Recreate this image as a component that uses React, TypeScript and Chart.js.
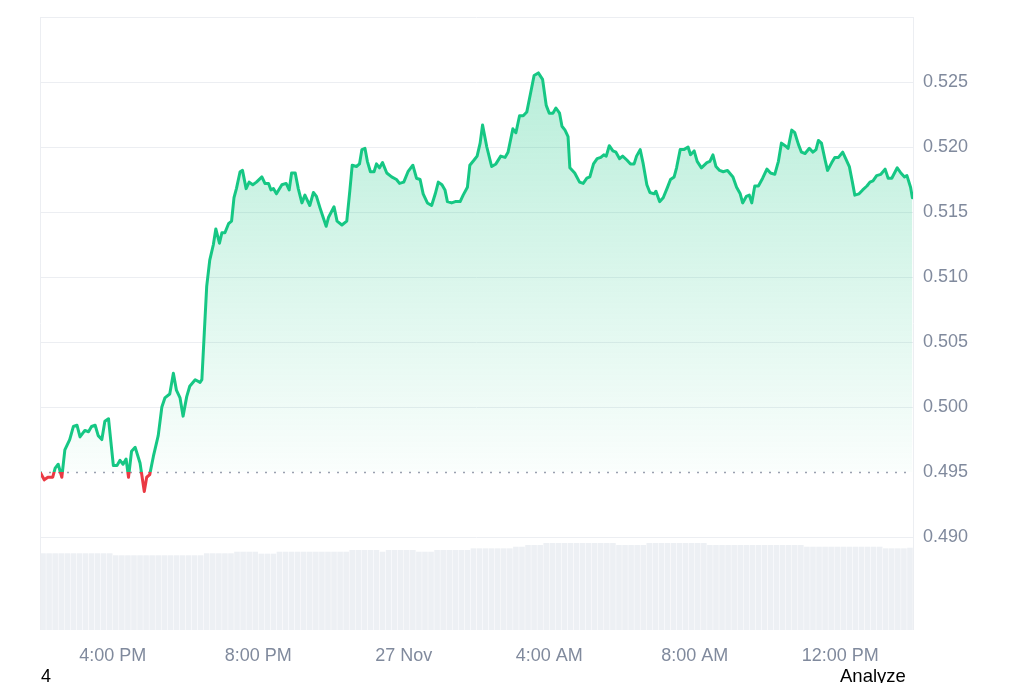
import React, { useEffect, useRef } from 'react';
import { Chart, registerables } from 'chart.js';

Chart.register(...registerables);

// minutes since 2:00 PM (26 Nov)
const times = [
  0, 7, 13, 21, 25, 30, 36, 41, 49, 55,
  61, 66, 74, 80, 85, 91, 96, 102, 107, 113,
  121, 127, 132, 137, 142, 146, 151, 157, 165, 172,
  176, 181, 187, 195, 201, 206, 214, 220, 225, 231,
  236, 242, 247, 256, 264, 267, 271, 275, 280, 286,
  290, 296, 300, 305, 311, 316, 320, 324, 330, 334,
  340, 345, 351, 357, 366, 371, 377, 381, 385, 390,
  399, 406, 411, 415, 421, 426, 432, 437, 445, 451,
  456, 462, 467, 472, 476, 485, 490, 498, 506, 511,
  515, 522, 527, 531, 536, 540, 545, 551, 555, 560,
  565, 572, 580, 588, 593, 600, 607, 615, 621, 627,
  632, 639, 646, 652, 657, 663, 668, 672, 679, 685,
  693, 698, 705, 709, 716, 721, 726, 730, 737, 745,
  752, 760, 767, 772, 780, 785, 791, 797, 803, 809,
  815, 822, 829, 835, 840, 846, 851, 857, 861, 866,
  871, 874, 882, 890, 896, 902, 907, 913, 919, 925,
  930, 934, 939, 945, 950, 956, 961, 968, 974, 980,
  984, 990, 995, 1001, 1006, 1013, 1016, 1022, 1028, 1035,
  1040, 1046, 1050, 1056, 1062, 1069, 1073, 1079, 1084, 1091,
  1100, 1105, 1110, 1115, 1121, 1127, 1134, 1143, 1149, 1155,
  1159, 1165, 1170, 1174, 1179, 1185, 1192, 1199, 1205, 1212,
  1218, 1223, 1229, 1234, 1240, 1245, 1251, 1256, 1262, 1269,
  1275, 1280, 1284, 1289, 1295, 1299, 1306, 1311, 1317, 1324,
  1329, 1335, 1340, 1344, 1351, 1357, 1364, 1369, 1374, 1380,
  1387, 1394, 1399, 1405, 1414, 1420, 1426, 1430, 1436, 1439,
];

const prices = [
  0.4950, 0.4944, 0.4946, 0.4946, 0.4953, 0.4956, 0.4946, 0.4967, 0.4975, 0.4985,
  0.4986, 0.4977, 0.4982, 0.4981, 0.4985, 0.4986, 0.4978, 0.4975, 0.4989, 0.4991,
  0.4955, 0.4955, 0.4959, 0.4956, 0.4960, 0.4946, 0.4966, 0.4969, 0.4957, 0.4935,
  0.4946, 0.4948, 0.4962, 0.4978, 0.5000, 0.5007, 0.5010, 0.5026, 0.5013, 0.5007,
  0.4993, 0.5008, 0.5016, 0.5021, 0.5019, 0.5021, 0.5057, 0.5093, 0.5113, 0.5125,
  0.5137, 0.5126, 0.5134, 0.5134, 0.5141, 0.5143, 0.5161, 0.5168, 0.5181, 0.5182,
  0.5168, 0.5173, 0.5171, 0.5173, 0.5177, 0.5172, 0.5172, 0.5167, 0.5168, 0.5164,
  0.5171, 0.5172, 0.5167, 0.5180, 0.5180, 0.5168, 0.5157, 0.5163, 0.5155, 0.5165,
  0.5162, 0.5153, 0.5146, 0.5139, 0.5146, 0.5154, 0.5143, 0.5140, 0.5143, 0.5166,
  0.5186, 0.5185, 0.5187, 0.5198, 0.5199, 0.5189, 0.5181, 0.5181, 0.5187, 0.5184,
  0.5188, 0.5180, 0.5177, 0.5175, 0.5172, 0.5173, 0.5181, 0.5186, 0.5176, 0.5175,
  0.5164, 0.5157, 0.5155, 0.5164, 0.5173, 0.5171, 0.5167, 0.5158, 0.5157, 0.5158,
  0.5158, 0.5163, 0.5169, 0.5186, 0.5190, 0.5193, 0.5203, 0.5217, 0.5200, 0.5185,
  0.5187, 0.5193, 0.5192, 0.5196, 0.5214, 0.5211, 0.5224, 0.5224, 0.5227, 0.5241,
  0.5255, 0.5257, 0.5252, 0.5232, 0.5226, 0.5226, 0.5230, 0.5226, 0.5216, 0.5213,
  0.5208, 0.5184, 0.5180, 0.5173, 0.5172, 0.5176, 0.5177, 0.5187, 0.5191, 0.5192,
  0.5194, 0.5193, 0.5201, 0.5197, 0.5196, 0.5191, 0.5193, 0.5190, 0.5187, 0.5187,
  0.5193, 0.5198, 0.5187, 0.5171, 0.5165, 0.5164, 0.5166, 0.5158, 0.5161, 0.5169,
  0.5175, 0.5177, 0.5184, 0.5198, 0.5198, 0.5200, 0.5194, 0.5197, 0.5189, 0.5184,
  0.5188, 0.5189, 0.5194, 0.5185, 0.5182, 0.5181, 0.5182, 0.5177, 0.5169, 0.5164,
  0.5157, 0.5162, 0.5163, 0.5157, 0.5170, 0.5170, 0.5176, 0.5183, 0.5180, 0.5179,
  0.5189, 0.5203, 0.5201, 0.5199, 0.5213, 0.5211, 0.5202, 0.5196, 0.5195, 0.5199,
  0.5196, 0.5198, 0.5205, 0.5203, 0.5190, 0.5182, 0.5188, 0.5192, 0.5192, 0.5196,
  0.5191, 0.5185, 0.5173, 0.5163, 0.5164, 0.5167, 0.5170, 0.5173, 0.5174, 0.5178,
  0.5179, 0.5183, 0.5176, 0.5176, 0.5184, 0.5180, 0.5177, 0.5178, 0.5169, 0.5161,
];

// 24h volume (M), one bar per 10-minute slot
const volumes = [
  100.1, 100.1, 100.1, 100.1, 100.1, 100.1, 100.1, 100.1, 100.1, 100.1, 100.1, 100.1,
  97.5, 97.5, 97.5, 97.5, 97.5, 97.5, 97.5, 97.5, 97.5, 97.5, 97.5, 97.5, 97.5, 97.5, 97.5,
  100.1, 100.1, 100.1, 100.1, 100.1,
  102.2, 102.2, 102.2, 102.2,
  99.6, 99.6, 99.6,
  102.2, 102.2, 102.2, 102.2, 102.2, 102.2, 102.2, 102.2, 102.2, 102.2, 102.2, 102.2,
  104.4, 104.4, 104.4, 104.4, 104.4,
  102.2,
  104.4, 104.4, 104.4, 104.4, 104.4,
  102.2, 102.2, 102.2,
  104.4, 104.4, 104.4, 104.4, 104.4, 104.4,
  106.6, 106.6, 106.6, 106.6, 106.6, 106.6, 106.6,
  108.7, 108.7,
  110.9, 110.9, 110.9,
  113.5, 113.5, 113.5, 113.5, 113.5, 113.5, 113.5, 113.5, 113.5, 113.5, 113.5, 113.5,
  110.9, 110.9, 110.9, 110.9, 110.9,
  113.5, 113.5, 113.5, 113.5, 113.5, 113.5, 113.5, 113.5, 113.5, 113.5,
  110.9, 110.9, 110.9, 110.9, 110.9, 110.9, 110.9, 110.9, 110.9, 110.9, 110.9, 110.9, 110.9, 110.9, 110.9, 110.9,
  108.7, 108.7, 108.7, 108.7, 108.7, 108.7, 108.7, 108.7, 108.7, 108.7, 108.7, 108.7, 108.7,
  106.6, 106.6, 106.6, 106.6,
  107.4,
];
const VOLUME_SLOT_MIN = 10;

const baselinePrice = 0.495;
const yTickValues = [0.49, 0.495, 0.5, 0.505, 0.51, 0.515, 0.52, 0.525, 0.53];
const xTickValues = [120, 360, 600, 840, 1080, 1320];
const xTickLabels = ['4:00 PM', '8:00 PM', '27 Nov', '4:00 AM', '8:00 AM', '12:00 PM'];

const GREEN = '#16c784';
const RED = '#ea3943';
const GRID = '#eceef2';
const VOL = '#edf0f4';
const TICK = '#808a9d';
const FONT = "'Liberation Sans', Arial, Helvetica, sans-serif";

function splitGradient(chart: any, topColor: string, midTop: string, midBottom: string, bottomColor: string) {
  const a = chart.chartArea;
  if (!a) return topColor;
  const yb = chart.scales.y.getPixelForValue(baselinePrice);
  const g = chart.ctx.createLinearGradient(0, a.top, 0, a.bottom);
  const s = Math.min(Math.max((yb - a.top) / (a.bottom - a.top), 0), 1);
  g.addColorStop(0, topColor);
  g.addColorStop(s, midTop);
  g.addColorStop(s, midBottom);
  g.addColorStop(1, bottomColor);
  return g;
}

const decorPlugin = {
  id: 'decor',
  beforeDatasetsDraw(chart: any) {
    const { ctx, chartArea: a, scales } = chart;
    const yb = Math.round(scales.y.getPixelForValue(baselinePrice)) + 0.5;
    ctx.save();
    ctx.setLineDash([2, 7]);
    ctx.strokeStyle = '#9aa1b0';
    ctx.lineWidth = 1.5;
    ctx.beginPath();
    ctx.moveTo(a.left, yb);
    ctx.lineTo(a.right, yb);
    ctx.stroke();
    ctx.restore();
  },
  afterDatasetsDraw(chart: any) {
    const { ctx, chartArea: a } = chart;
    ctx.save();
    ctx.strokeStyle = GRID;
    ctx.lineWidth = 1;
    ctx.beginPath();
    const l = Math.round(a.left) + 0.5;
    const r = Math.round(a.right) + 0.5;
    ctx.moveTo(l, a.top);
    ctx.lineTo(l, a.bottom);
    ctx.moveTo(r, a.top);
    ctx.lineTo(r, a.bottom);
    ctx.stroke();
    ctx.restore();
  },
};

export default function App() {
  const ref = useRef<HTMLCanvasElement | null>(null);

  useEffect(() => {
    if (!ref.current) return;
    const chart = new Chart(ref.current, {
      type: 'line',
      data: {
        datasets: [
          {
            type: 'line',
            label: 'Price',
            data: times.map((t, i) => ({ x: t, y: prices[i] })),
            yAxisID: 'y',
            xAxisID: 'x',
            borderWidth: 3,
            pointRadius: 0,
            tension: 0,
            borderJoinStyle: 'round',
            borderCapStyle: 'round',
            order: 0,
            fill: { target: { value: baselinePrice } },
            borderColor: (c: any) => splitGradient(c.chart, GREEN, GREEN, RED, RED),
            backgroundColor: (c: any) =>
              splitGradient(
                c.chart,
                'rgba(22,199,132,0.34)',
                'rgba(22,199,132,0.02)',
                'rgba(234,57,67,0.02)',
                'rgba(234,57,67,0.3)'
              ),
          } as any,
          {
            type: 'bar',
            label: 'Volume',
            data: volumes.map((v, i) => ({ x: i * VOLUME_SLOT_MIN + VOLUME_SLOT_MIN / 2, y: v })),
            yAxisID: 'yv',
            xAxisID: 'x',
            backgroundColor: VOL,
            borderWidth: 0,
            barPercentage: 0.92,
            categoryPercentage: 1,
            order: 1,
          } as any,
        ],
      },
      options: {
        responsive: false,
        animation: false,
        devicePixelRatio: 1,
        events: [],
        layout: { padding: { left: 40, top: 17, right: 0, bottom: 0 } },
        plugins: {
          legend: { display: false },
          tooltip: { enabled: false },
        },
        scales: {
          x: {
            type: 'linear',
            min: 0,
            max: 1440,
            offset: false,
            afterBuildTicks: (s: any) => {
              s.ticks = xTickValues.map((v) => ({ value: v }));
            },
            afterFit: (s: any) => {
              s.height = 38;
            },
            ticks: {
              autoSkip: false,
              maxRotation: 0,
              padding: 15,
              color: TICK,
              font: { family: FONT, size: 18 },
              callback: (_v: any, i: number) => xTickLabels[i],
            },
            grid: { display: false, drawTicks: false },
            border: { display: false },
          },
          y: {
            type: 'linear',
            position: 'right',
            min: 0.48285,
            max: 0.53,
            afterBuildTicks: (s: any) => {
              s.ticks = yTickValues.map((v) => ({ value: v }));
            },
            afterFit: (s: any) => {
              s.width = 111;
            },
            ticks: {
              padding: 0,
              color: TICK,
              font: { family: FONT, size: 18 },
              callback: (v: any, i: number) => (i === yTickValues.length - 1 ? '' : Number(v).toFixed(3)),
            },
            grid: {
              drawTicks: true,
              tickLength: 10,
              tickColor: 'rgba(0,0,0,0)',
              lineWidth: 1,
              color: (c: any) =>
                c.tick && Math.abs(c.tick.value - baselinePrice) < 1e-9 ? 'rgba(0,0,0,0)' : GRID,
            },
            border: { display: false },
          },
          yv: {
            type: 'linear',
            display: false,
            min: 0,
            max: 800,
          },
        },
      },
      plugins: [decorPlugin],
    } as any);
    return () => chart.destroy();
  }, []);

  const textStyle: React.CSSProperties = {
    position: 'absolute',
    top: 666,
    fontFamily: FONT,
    fontSize: 18,
    lineHeight: '20px',
    color: '#000',
    whiteSpace: 'nowrap',
  };

  return (
    <div
      style={{
        position: 'absolute',
        left: 0,
        top: 0,
        width: 1024,
        height: 683,
        overflow: 'hidden',
        background: '#fff',
      }}
    >
      <canvas
        ref={ref}
        width={1024}
        height={668}
        style={{ position: 'absolute', left: 0, top: 0, width: 1024, height: 668, display: 'block' }}
      />
      <div style={{ ...textStyle, left: 41 }}>4</div>
      <div style={{ ...textStyle, left: 840, fontSize: 18.5 }}>Analyze</div>
    </div>
  );
}
